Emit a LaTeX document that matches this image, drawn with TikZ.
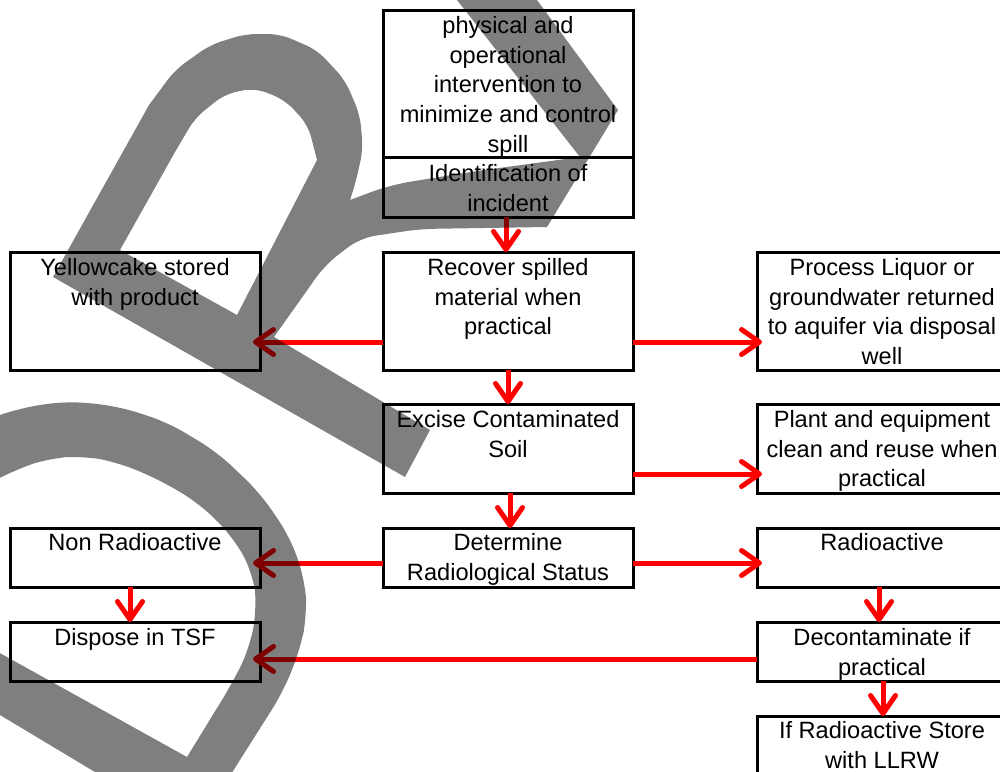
\documentclass[tikz,border=0pt]{standalone}
\usepackage{fontspec}
\setmainfont{Liberation Sans}
\usetikzlibrary{arrows.meta}
\definecolor{arrred}{RGB}{255,0,0}
\begin{document}
\begin{tikzpicture}[x=1pt,y=-1pt,
  box/.style={draw=black, line width=3pt, minimum width=250pt, inner sep=0pt, outer sep=0pt, anchor=north west, rectangle},
  txt/.style={font=\fontsize{23.6}{29.7}\selectfont, align=center, inner sep=0pt, anchor=north},
  arr/.style={draw=arrred, line width=5pt, -{Straight Barb[length=18pt,width=25pt,line width=5pt,round]}},
  harr/.style={arr, shorten >=-5pt},
  wm/.style={fill=black, fill opacity=0.5, even odd rule}]
\useasboundingbox (0,0) rectangle (1000,771);
\clip (0,0) rectangle (1000,771);
\fill[white] (0,0) rectangle (1000,771);

% boxes
\node[box, minimum height=147pt] (b0) at (383,10) {};
\node[box, minimum height=60pt] (bid) at (383,157) {};
\node[box, minimum height=118pt] (brec) at (383,252) {};
\node[box, minimum height=118pt] (byel) at (10,252) {};
\node[box, minimum height=118pt] (bpro) at (757,252) {};
\node[box, minimum height=89pt] (bexc) at (383,404) {};
\node[box, minimum height=89pt] (bpla) at (757,404) {};
\node[box, minimum height=59pt] (bnon) at (10,528) {};
\node[box, minimum height=59pt] (bdet) at (383,528) {};
\node[box, minimum height=59pt] (brad) at (757,528) {};
\node[box, minimum height=59pt] (bdis) at (10,622) {};
\node[box, minimum height=59pt] (bdec) at (757,622) {};
\node[box, minimum height=80pt] (bif) at (757,716) {};

% texts
\node[txt] (t0) at ([yshift=-6pt]b0.north) {physical and\\operational\\intervention to\\minimize and control\\spill};
\node[txt] (tid) at ([yshift=-7pt]bid.north) {Identification of\\incident};
\node[txt] (trec) at ([yshift=-6pt]brec.north) {Recover spilled\\material when\\practical};
\node[txt] (tyel) at ([yshift=-6pt]byel.north) {Yellowcake stored\\with product};
\node[txt] (tpro) at ([yshift=-6pt]bpro.north) {Process Liquor or\\groundwater returned\\to aquifer via disposal\\well};
\node[txt] (texc) at ([yshift=-6pt]bexc.north) {Excise Contaminated\\Soil};
\node[txt] (tpla) at ([yshift=-6pt]bpla.north) {Plant and equipment\\clean and reuse when\\practical};
\node[txt] (tnon) at ([yshift=-5pt]bnon.north) {Non Radioactive};
\node[txt] (tdet) at ([yshift=-5pt]bdet.north) {Determine\\Radiological Status};
\node[txt] (trad) at ([yshift=-5pt]brad.north) {Radioactive};
\node[txt] (tdis) at ([yshift=-6pt]bdis.north) {Dispose in TSF};
\node[txt] (tdec) at ([yshift=-6pt]bdec.north) {Decontaminate if\\practical};
\node[txt] (tif) at ([yshift=-5pt]bif.north) {If Radioactive Store\\with LLRW};

% arrows
\draw[arr] ([xshift=-2pt]bid.south) -- ([xshift=-2pt]brec.north);
\draw[arr] (brec.south) -- (bexc.north);
\draw[arr] ([xshift=2pt]bexc.south) -- ([xshift=2pt]bdet.north);
\draw[harr, shorten >=-7pt] ([yshift=-31pt]brec.west) -- ([yshift=-31pt]byel.east);
\draw[harr] ([yshift=-31pt]brec.east) -- ([yshift=-31pt]bpro.west);
\draw[harr] ([yshift=-25.5pt]bexc.east) -- ([yshift=-25.5pt]bpla.west);
\draw[harr, shorten >=-7pt] ([yshift=-5.5pt]bdet.west) -- ([yshift=-5.5pt]bnon.east);
\draw[harr] ([yshift=-5.5pt]bdet.east) -- ([yshift=-5.5pt]brad.west);
\draw[arr] ([xshift=-5pt]bnon.south) -- ([xshift=-5pt]bdis.north);
\draw[arr] ([xshift=-3pt]brad.south) -- ([xshift=-3pt]bdec.north);
\draw[arr] ([xshift=1pt]bdec.south) -- ([xshift=1pt]bif.north);
\draw[harr, shorten >=-7pt] ([yshift=-7.5pt]bdec.west) -- ([yshift=-7.5pt]bdis.east);

% watermark: R
\fill[wm] (405,477) -- (53,277) -- (149,105)
  [rounded corners=12pt] -- (175,70) -- (210,45) -- (245,34) -- (280,34) -- (317,50) -- (345,80) -- (360,115) -- (363,150) -- (355,185)
  [sharp corners] -- (350,200)
  [rounded corners=20pt] -- (390,185) -- (470,172)
  [sharp corners] -- (580,157) -- (589.5,157) -- (547,227)
  [rounded corners=15pt] -- (420,229) -- (360,238) -- (325,265)
  [sharp corners] -- (274,337) -- (430,430) -- cycle
  (120,250) -- (175,152)
  [rounded corners=12pt] -- (195,118) -- (225,94) -- (255,88) -- (285,100) -- (308,125)
  [sharp corners] -- (317,160) -- (237,315) -- cycle;
% watermark: foot of A
\fill[wm] (580,157) -- (457,0) -- (537,0) -- (618,110) -- (589.5,157) -- cycle;
% watermark: D
\fill[wm] (-20,422)
  [rounded corners=20pt] -- (20,408) -- (67,401) -- (117,406) -- (167,422) -- (217,452) -- (260,493) -- (290,537) -- (305,580) -- (307,615) -- (300,650) -- (283,692)
  [sharp corners] -- (233,771) -- (222,790) -- (125,790) -- (-20,703) -- cycle
  (-20,488)
  [rounded corners=20pt] -- (17,469) -- (50,458) -- (83,456) -- (117,462) -- (160,480) -- (200,504) -- (233,537) -- (253,573) -- (257,607) -- (250,647) -- (233,682)
  [sharp corners] -- (187,757) -- (-20,642) -- cycle;
\end{tikzpicture}
\end{document}
